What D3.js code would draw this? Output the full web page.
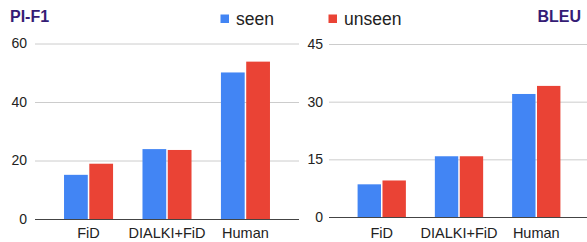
<!DOCTYPE html>
<html>
<head>
<meta charset="utf-8">
<script src="https://cdn.jsdelivr.net/npm/d3@7"></script>
<style>
  html, body { margin: 0; padding: 0; background: #fff; }
  svg { display: block; font-family: Arial, "Liberation Sans", sans-serif; }
</style>
</head>
<body>
<div id="chart"></div>
<script>
// data
var categories = ['FiD', 'DIALKI+FiD', 'Human'];
var series = ['seen', 'unseen'];
var colors = ['#4285f4', '#ea4335'];

var pif1Seen = [15.1, 23.9, 50.1];
var pif1Unseen = [18.9, 23.6, 53.8];
var pif1Ticks = [0, 20, 40, 60];

var bleuSeen = [8.5, 15.8, 32.0];
var bleuUnseen = [9.5, 15.8, 34.1];
var bleuTicks = [0, 15, 30, 45];

var width = 587, height = 242;

var svg = d3.select('#chart').append('svg')
    .attr('width', width)
    .attr('height', height);

function drawPanel(opts) {
  var y = d3.scaleLinear()
      .domain([0, opts.ticks[opts.ticks.length - 1]])
      .range([opts.y0, opts.y1]);

  var x = d3.scaleBand()
      .domain(categories)
      .range([opts.x0, opts.x1])
      .paddingInner(0.375)
      .paddingOuter(0.37);

  var xs = d3.scaleBand()
      .domain(series)
      .range([0, x.bandwidth()])
      .paddingInner(0.06);

  var g = svg.append('g');

  // gridlines
  g.selectAll('.grid')
      .data(opts.ticks.filter(function(d) { return d > 0; }))
    .enter().append('line')
      .attr('x1', opts.x0)
      .attr('x2', opts.x1)
      .attr('y1', function(d) { return y(d) + 0.5; })
      .attr('y2', function(d) { return y(d) + 0.5; })
      .attr('stroke', '#cccccc')
      .attr('stroke-width', 1);

  // tick labels
  g.selectAll('.tick')
      .data(opts.ticks)
    .enter().append('text')
      .attr('x', opts.labelX)
      .attr('y', function(d) { return y(d); })
      .attr('dy', '0.35em')
      .attr('text-anchor', 'end')
      .attr('font-size', 14)
      .attr('fill', '#222')
      .text(function(d) { return d; });

  var rows = categories.map(function(c, i) {
    return { cat: c, values: [opts.seen[i], opts.unseen[i]] };
  });

  var grp = g.selectAll('.grp')
      .data(rows)
    .enter().append('g')
      .attr('transform', function(d) { return 'translate(' + x(d.cat) + ',0)'; });

  grp.selectAll('rect')
      .data(function(d) { return d.values.map(function(v, j) { return { s: series[j], v: v, j: j }; }); })
    .enter().append('rect')
      .attr('x', function(d) { return xs(d.s); })
      .attr('y', function(d) { return y(d.v); })
      .attr('width', xs.bandwidth())
      .attr('height', function(d) { return y(0) - y(d.v); })
      .attr('fill', function(d) { return colors[d.j]; });

  // baseline
  g.append('line')
      .attr('x1', opts.x0)
      .attr('x2', opts.x1)
      .attr('y1', y(0) + 0.5)
      .attr('y2', y(0) + 0.5)
      .attr('stroke', '#444')
      .attr('stroke-width', 1);

  // category labels
  g.selectAll('.cat')
      .data(categories)
    .enter().append('text')
      .attr('x', function(d) { return x(d) + x.bandwidth() / 2; })
      .attr('y', 238)
      .attr('text-anchor', 'middle')
      .attr('font-size', 14.5)
      .attr('fill', '#222')
      .text(function(d) { return d; });

  // title
  g.append('text')
      .attr('x', opts.titleX)
      .attr('y', 22)
      .attr('text-anchor', opts.titleAnchor)
      .attr('font-size', 16)
      .attr('font-weight', 'bold')
      .attr('fill', '#351c75')
      .text(opts.title);
}

drawPanel({
  title: 'PI-F1', titleX: 10, titleAnchor: 'start',
  seen: pif1Seen, unseen: pif1Unseen, ticks: pif1Ticks,
  x0: 35, x1: 299, y0: 219, y1: 43.5, labelX: 27
});

drawPanel({
  title: 'BLEU', titleX: 581, titleAnchor: 'end',
  seen: bleuSeen, unseen: bleuUnseen, ticks: bleuTicks,
  x0: 329, x1: 589, y0: 217, y1: 44, labelX: 323
});

// legend
var legendX = [220.5, 328.5];
var legend = svg.selectAll('.legend')
    .data(series)
  .enter().append('g')
    .attr('transform', function(d, i) { return 'translate(' + legendX[i] + ',14.5)'; });

legend.append('rect')
    .attr('width', 8.5)
    .attr('height', 8.5)
    .attr('fill', function(d, i) { return colors[i]; });

legend.append('text')
    .attr('x', 15.5)
    .attr('y', 4.5)
    .attr('dy', '0.35em')
    .attr('font-size', 17.5)
    .attr('fill', '#222')
    .text(function(d) { return d; });
</script>
</body>
</html>
